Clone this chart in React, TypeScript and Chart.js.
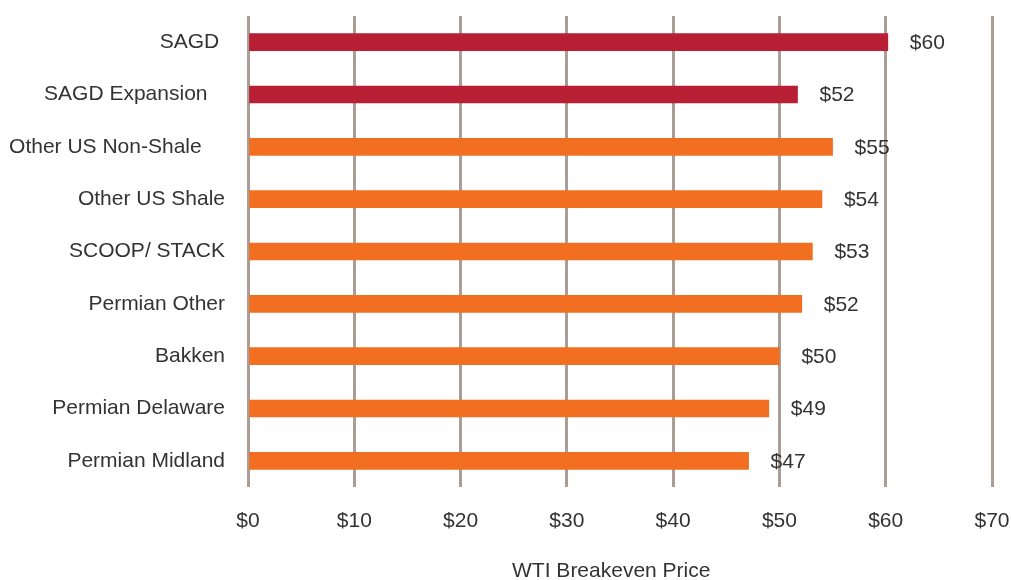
import React, { useEffect, useRef } from "react";
import { Chart, registerables } from "chart.js";

Chart.register(...registerables);

const categories = [
  "SAGD ",
  "SAGD Expansion   ",
  "Other US Non-Shale    ",
  "Other US Shale",
  "SCOOP/ STACK",
  "Permian Other",
  "Bakken",
  "Permian Delaware",
  "Permian Midland",
];
const breakevenValues = [60.2, 51.7, 55.0, 54.0, 53.1, 52.1, 50.0, 49.0, 47.1];
const valueLabels = ["$60", "$52", "$55", "$54", "$53", "$52", "$50", "$49", "$47"];
const barColors = ["#b81f34", "#b81f34", "#f26f22", "#f26f22", "#f26f22", "#f26f22", "#f26f22", "#f26f22", "#f26f22"];
const xTickMin = 0;
const xTickMax = 70;
const xTickStep = 10;
const axisTitle = "WTI Breakeven Price   ";

const FONT = "'Liberation Sans', Arial, sans-serif";
const TEXT = "#333333";

const valueLabelPlugin = {
  id: "valueLabels",
  afterDatasetsDraw(chart: any) {
    const ctx = chart.ctx;
    const meta = chart.getDatasetMeta(0);
    ctx.save();
    ctx.font = `21px ${FONT}`;
    ctx.fillStyle = TEXT;
    ctx.textAlign = "left";
    ctx.textBaseline = "middle";
    meta.data.forEach((bar: any, i: number) => {
      ctx.fillText(valueLabels[i], bar.x + 22, bar.y + 1);
    });
    ctx.restore();
  },
};

const zeroPad = (s: any) => {
  s.paddingLeft = 0;
  s.paddingRight = 0;
  s.paddingTop = 0;
  s.paddingBottom = 0;
};

export default function App() {
  const ref = useRef<HTMLCanvasElement>(null);
  useEffect(() => {
    if (!ref.current) return;
    const chart = new Chart(ref.current, {
      type: "bar",
      data: {
        labels: categories,
        datasets: [
          {
            data: breakevenValues,
            backgroundColor: barColors,
            barThickness: 17,
          },
        ],
      },
      options: {
        indexAxis: "y",
        animation: false,
        responsive: false,
        layout: { padding: { top: 16, right: 19, left: 0, bottom: 0 } },
        plugins: {
          legend: { display: false },
          tooltip: { enabled: false },
        },
        scales: {
          x: {
            min: xTickMin,
            max: xTickMax,
            border: { display: false },
            grid: { color: "#a99d95", lineWidth: 3, drawTicks: false },
            ticks: {
              stepSize: xTickStep,
              padding: 22,
              color: TEXT,
              font: { family: FONT, size: 21 },
              callback: (v: any) => "$" + v,
            },
            title: {
              display: true,
              text: axisTitle,
              color: TEXT,
              font: { family: FONT, size: 21, lineHeight: 1 },
              padding: { top: 4, bottom: -2 },
            },
            afterFit: (s: any) => {
              s.height = 93;
              zeroPad(s);
            },
          },
          y: {
            border: { display: false },
            grid: { display: false, drawTicks: false },
            ticks: {
              padding: 23,
              color: TEXT,
              font: { family: FONT, size: 21 },
            },
            afterFit: (s: any) => {
              s.width = 248;
              zeroPad(s);
            },
          },
        },
      },
      plugins: [valueLabelPlugin],
    });
    return () => chart.destroy();
  }, []);
  return (
    <canvas
      ref={ref}
      width={1011}
      height={580}
      style={{ position: "absolute", left: 0, top: 0, display: "block" }}
    />
  );
}
